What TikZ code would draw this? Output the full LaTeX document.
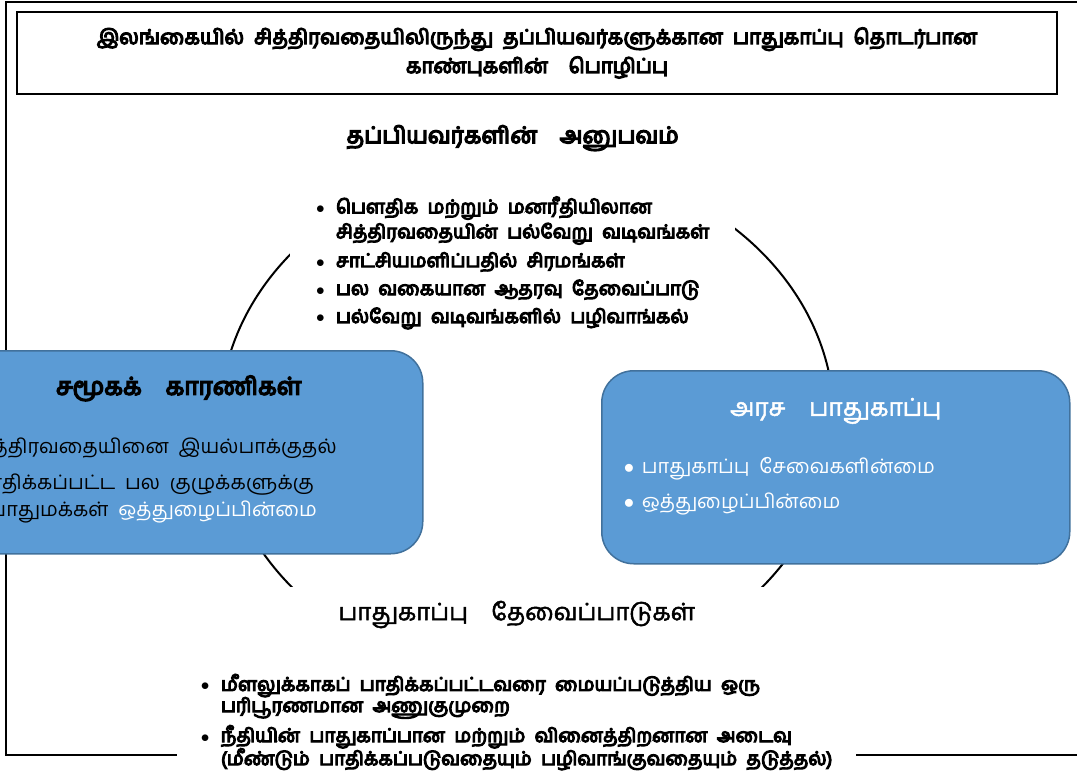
\documentclass[tikz,border=0pt]{standalone}
\usepackage{fontspec}
\setmainfont{Hind Madurai}[Script=Tamil, WordSpace=2]
\newfontfamily\tamilbf{Hind Madurai}[Script=Tamil, WordSpace=2, FakeBold=6]
\newfontfamily\tamilmd{Hind Madurai}[Script=Tamil, WordSpace=2, FakeBold=2]
\usepackage{xcolor}
\usepackage{tikz}

\definecolor{boxblue}{HTML}{5B9BD5}
\definecolor{boxedge}{HTML}{41719C}
\newcommand{\itm}[1][20bp]{\makebox[#1][l]{$\bullet$}}
\newcommand{\itmgap}[1][20bp]{\hspace*{#1}}
\newcommand{\headfont}{\fontsize{23}{26}\selectfont\tamilbf}
\newcommand{\listfont}{\fontsize{19}{25}\selectfont\tamilbf}
\newcommand{\boxfont}{\fontsize{20}{27}\selectfont}

\begin{document}
\begin{tikzpicture}[x=1bp,y=-1bp,
  frame/.style={line width=2.5bp},
  ring/.style={line width=2bp},
  titlebox/.style={draw,line width=2.5bp,minimum width=1040bp,minimum height=82bp,
    align=center,inner sep=0pt,font=\fontsize{20.5}{29}\selectfont\tamilbf},
  block/.style={fill=white,inner sep=0pt,anchor=north west},
  bluebox/.style={fill=boxblue,draw=boxedge,line width=1.5bp,rounded corners=32bp,
    inner sep=0pt,anchor=north west}]

    \useasboundingbox (0,0) rectangle (1077,773);
    \clip (0,0) rectangle (1077,773);

    % outer frame, open on the right
    \draw[frame] (1090,2) -- (6,2) -- (6,755) -- (1090,755);
    % the cycle, hidden behind the four blocks
    \draw[ring] (527,420) ellipse [x radius=307, y radius=260];

    \node[titlebox](title) at (537,53)
        {இலங்கையில் சித்திரவதையிலிருந்து தப்பியவர்களுக்கான பாதுகாப்பு தொடர்பான\\
         காண்புகளின்\quad பொழிப்பு};

    \node[block](exp) at (290,108) {\parbox[c][227bp][t]{445bp}{\centering
        {\headfont\rule{0pt}{35bp}தப்பியவர்களின்\ \ அனுபவம்\par}
        \vspace{44bp}
        {\listfont\begin{tabular}[t]{@{}l@{}}
            \itm பௌதிக மற்றும் மனரீதியிலான\\
            \itmgap சித்திரவதையின் பல்வேறு வடிவங்கள்\\[4bp]
            \itm சாட்சியமளிப்பதில் சிரமங்கள்\\[3bp]
            \itm பல வகையான ஆதரவு தேவைப்பாடு\\[3bp]
            \itm பல்வேறு வடிவங்களில் பழிவாங்கல்
        \end{tabular}\par}}};

    \node[block](req) at (177,587) {\parbox[c][192bp][t]{679bp}{\centering
        {\fontsize{24}{26}\selectfont\tamilmd\rule{0pt}{33bp}பாதுகாப்பு\ \ தேவைப்பாடுகள்\par}
        \vspace{45bp}
        {\fontsize{19}{21}\selectfont\tamilbf\begin{tabular}[t]{@{}l@{}}
            \itm மீளலுக்காகப் பாதிக்கப்பட்டவரை மையப்படுத்திய ஒரு\\
            \itmgap பரிபூரணமான அணுகுமுறை\\[7bp]
            \itm நீதியின் பாதுகாப்பான மற்றும் வினைத்திறனான அடைவு\\
            \itmgap (மீண்டும் பாதிக்கப்படுவதையும் பழிவாங்குவதையும் தடுத்தல்)
        \end{tabular}\par}}};

    \node[bluebox](soc) at (-66,350) {\parbox[c][203bp][t]{488bp}{
        \makebox[\linewidth]{\fontsize{24.5}{24}\selectfont\tamilbf\rule{0pt}{44bp}சமூகக்\ \ காரணிகள்}\par
        \vspace{32bp}
        {\boxfont\raggedright
        \itmgap[22bp]\itm[18bp]சித்திரவதையினை இயல்பாக்குதல்\\[9bp]
        \itmgap[22bp]\itm[18bp]பாதிக்கப்பட்ட பல குழுக்களுக்கு\\
        \itmgap[40bp]பொதுமக்கள் \textcolor{white}{ஒத்துழைப்பின்மை}\par}}};

    \node[bluebox,text=white](state) at (601,370) {\parbox[c][193bp][t]{468bp}{
        \makebox[\linewidth]{\fontsize{24.5}{24}\selectfont\tamilmd\rule{0pt}{45bp}அரச\ \ பாதுகாப்பு}\par
        \vspace{31bp}
        {\boxfont\raggedright
        \itmgap[22bp]\itm[18bp]பாதுகாப்பு சேவைகளின்மை\\[8bp]
        \itmgap[22bp]\itm[18bp]ஒத்துழைப்பின்மை\par}}};
\end{tikzpicture}
\end{document}
